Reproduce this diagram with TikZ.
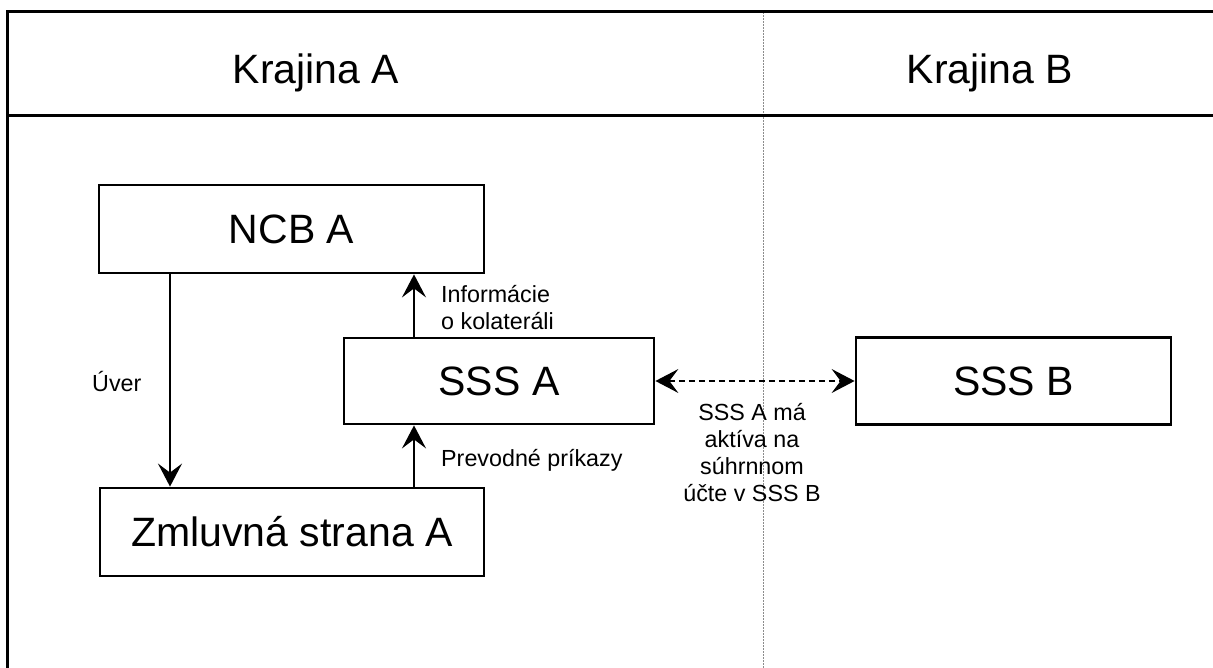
\documentclass[tikz,border=0pt]{standalone}
\usepackage{fontspec}
\setmainfont{Liberation Sans}
\usetikzlibrary{arrows.meta}
\begin{document}
\begin{tikzpicture}[x=1pt,y=-1pt,
  frame/.style={line width=3pt},
  divider/.style={line width=1pt, draw=black!45, dash pattern=on 2pt off 1pt},
  box/.style={draw, line width=2.8pt, font=\fontsize{41}{49}\selectfont, text height=29.3pt, text depth=0pt, inner sep=0pt},
  hdr/.style={font=\fontsize{41}{49}\selectfont, inner sep=0pt},
  lbl/.style={font=\fontsize{23.3}{27}\selectfont, inner sep=0pt},
  arr/.style={line width=2pt, -{Stealth[length=23pt,width=24pt,inset=9pt]}},
  darr/.style={line width=1.5pt, dash pattern=on 6pt off 4pt, {Stealth[length=23pt,width=24pt,inset=9pt]}-{Stealth[length=23pt,width=24pt,inset=9pt]}},
]
\useasboundingbox (0,0) rectangle (1213,668);

% divider between countries
\coordinate (dtop) at (763,12);
\coordinate (dbot) at (763,668);
\draw[divider] (dtop) -- (dbot);

% frame
\coordinate (tl) at (7,12);
\coordinate (tr) at (1213,12);
\coordinate (bl) at (7,668);
\coordinate (hl) at (7,116);
\coordinate (hr) at (1213,116);
\draw[frame] (tr) -- (tl) -- (bl);
\draw[frame] (hl) -- (hr);

% headers
\node[hdr, anchor=base] (ka) at (316,84) {Krajina A};
\node[hdr, anchor=base] (kb) at (990,84) {Krajina B};

% boxes
\node[box, minimum width=385pt, minimum height=88pt] (ncb) at (291.5,229) {NCB A};
\node[box, minimum width=384pt, minimum height=88pt] (zml) at (292,532) {Zmluvná strana A};
\node[box, minimum width=310pt, minimum height=86pt] (ssa) at (499,381) {SSS A};
\node[box, minimum width=315pt, minimum height=87pt] (ssb) at (1013.5,381) {SSS B};

% connectors
\draw[arr] (ncb.south -| 170,0) -- (zml.north -| 170,0);
\draw[arr] (ssa.north -| 414,0) -- (ncb.south -| 414,0);
\draw[arr] (zml.north -| 414,0) -- (ssa.south -| 414,0);
\draw[darr] (ssa.east) -- (ssb.west);

% labels
\node[lbl, anchor=base west] (uver) at (92,391) {Úver};
\node[lbl, anchor=base west] (info) at (441,303) {\begin{tabular}[t]{@{}l@{}}Informácie\\o kolateráli\end{tabular}};
\node[lbl, anchor=base west] (prev) at (441,466) {Prevodné príkazy};
\node[lbl, anchor=base] (sum) at (752,420) {\begin{tabular}[t]{@{}c@{}}SSS A má\\aktíva na\\súhrnnom\\účte v SSS B\end{tabular}};
\end{tikzpicture}
\end{document}
